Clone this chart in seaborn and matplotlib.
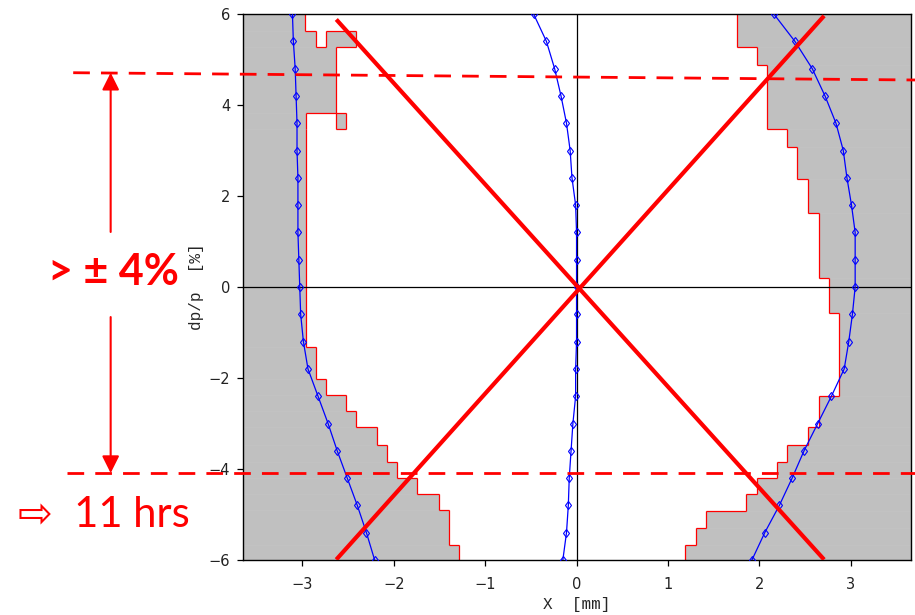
import numpy as np
import pandas as pd
import matplotlib
matplotlib.use("Agg")
import matplotlib.pyplot as plt
from matplotlib.collections import LineCollection
import seaborn as sns

# ---- tracked particle trajectories: horizontal position vs momentum offset ----
dpp = [-6.0, -5.4, -4.8, -4.2, -3.6, -3.0, -2.4, -1.8, -1.2, -0.6, 0.0,
       0.6, 1.2, 1.8, 2.4, 3.0, 3.6, 4.2, 4.8, 5.4, 6.0]
x_inner_left = [-2.21, -2.30, -2.40, -2.51, -2.62, -2.72, -2.83, -2.94, -2.99, -3.02, -3.03,
                -3.04, -3.05, -3.05, -3.05, -3.06, -3.06, -3.07, -3.08, -3.10, -3.11]
x_center = [-0.15, -0.11, -0.09, -0.08, -0.06, -0.04, -0.01, -0.01, 0.00, 0.00, 0.00,
            0.00, 0.00, -0.01, -0.05, -0.07, -0.11, -0.17, -0.24, -0.33, -0.47]
x_outer_right = [1.92, 2.06, 2.22, 2.36, 2.49, 2.64, 2.79, 2.93, 2.98, 3.02, 3.05,
                 3.05, 3.05, 3.01, 2.96, 2.92, 2.84, 2.72, 2.58, 2.39, 2.16]

# ---- lost-particle region on the negative side (momentum bins and aperture limit) ----
left_edges = [-6.0, -5.66, -4.90, -4.55, -4.20, -3.84, -3.47, -3.08, -2.72, -2.37,
              -2.02, -1.31, 3.47, 3.82, 5.28, 5.63, 6.0]
left_limit = [-1.29, -1.40, -1.51, -1.75, -1.96, -2.07, -2.18, -2.41, -2.52, -2.74,
              -2.85, -2.96, -2.96, -2.63, -2.85, -2.97]
# isolated lost cells: (bin index, x from, x to)
left_islands = [(12, -2.63, -2.52), (14, -2.74, -2.41)]

# ---- lost-particle region on the positive side ----
right_edges = [-6.0, -5.66, -5.30, -4.92, -4.54, -4.20, -3.84, -3.47, -3.07, -2.39,
               -0.56, 0.19, 1.62, 2.37, 3.08, 3.47, 4.89, 5.28, 6.0]
right_limit = [1.19, 1.31, 1.42, 1.86, 1.97, 2.19, 2.30, 2.53, 2.65, 2.87,
               2.76, 2.65, 2.53, 2.41, 2.30, 2.08, 1.97, 1.76]

# ---- dispersive acceptance lines ----
line_a_x = [-2.63, 2.71]
line_a_y = [5.88, -5.99]
line_b_x = [-2.63, 2.71]
line_b_y = [-5.99, 5.96]

# ---- momentum acceptance markers ----
upper_cut_x = [-5.51, 3.71]
upper_cut_y = [4.71, 4.55]
lower_cut_x = [-5.58, 3.71]
lower_cut_y = [-4.09, -4.09]

acceptance_label = "> ± 4%"
lifetime_label = "⇨  11 hrs"

GRAY = "#c0c0c0"
RED = "#ff0000"
BLUE = "#0000ff"

sns.set_theme(style="white")
plt.rcParams["font.family"] = ["DejaVu Sans"]

fig = plt.figure(figsize=(9.15, 6.15), dpi=100)
ax = fig.add_axes([0.2659, 0.0894, 0.7294, 0.8878])
ax.set_xlim(-3.648, 3.658)
ax.set_ylim(-6, 6)


def rows_from(edges, bounds, side, islands=()):
    rows = []
    for i, b in enumerate(bounds):
        ivs = [(-5.0, b)] if side == "left" else [(b, 5.0)]
        for k, a0, a1 in islands:
            if k == i:
                ivs.append((a0, a1))
        rows.append((edges[i], edges[i + 1], ivs))
    return rows


def outline(rows):
    segs = []
    for y0, y1, ivs in rows:
        for a0, a1 in ivs:
            segs.append([(a0, y0), (a0, y1)])
            segs.append([(a1, y0), (a1, y1)])
    for (_, y, lower), (_, _, upper) in zip(rows[:-1], rows[1:]):
        pts = sorted({p for iv in lower + upper for p in iv})
        for p, q in zip(pts[:-1], pts[1:]):
            m = 0.5 * (p + q)
            in_lo = any(a < m < b for a, b in lower)
            in_up = any(a < m < b for a, b in upper)
            if in_lo != in_up:
                segs.append([(p, y), (q, y)])
    return segs


for rows in (rows_from(left_edges, left_limit, "left", left_islands),
             rows_from(right_edges, right_limit, "right")):
    for y0, y1, ivs in rows:
        for a0, a1 in ivs:
            ax.fill_betweenx([y0, y1], a0, a1, color=GRAY, lw=0.4, ec=GRAY, zorder=1)
    ax.add_collection(LineCollection(outline(rows), colors=RED, linewidths=0.9, zorder=2))

# axes cross-hair
ax.axhline(0, color="black", lw=0.9, zorder=3)
ax.axvline(0, color="black", lw=0.9, zorder=3)

# trajectories
tracks = pd.DataFrame({
    "dpp": dpp * 3,
    "x": x_inner_left + x_center + x_outer_right,
    "track": ["left"] * len(dpp) + ["center"] * len(dpp) + ["right"] * len(dpp),
})
sns.lineplot(data=tracks, x="x", y="dpp", units="track", estimator=None, sort=False,
             color=BLUE, lw=0.9, marker="d", ms=4.5, mfc="none", mec=BLUE, mew=0.8,
             ax=ax, zorder=4, legend=False)

# acceptance cross
ax.plot(line_a_x, line_a_y, color=RED, lw=3, zorder=5, solid_capstyle="butt")
ax.plot(line_b_x, line_b_y, color=RED, lw=3, zorder=5, solid_capstyle="butt")

# momentum acceptance cuts extending into the margin
for xs, ys in ((upper_cut_x, upper_cut_y), (lower_cut_x, lower_cut_y)):
    ax.plot(xs, ys, color=RED, lw=2, ls=(0, (6, 4)), clip_on=False, zorder=6)

arrow_x = -5.10
arrow_kw = dict(arrowstyle="-|>", color=RED, lw=1.5, mutation_scale=26, shrinkA=0, shrinkB=0)
ax.annotate("", xy=(arrow_x, upper_cut_y[0]), xytext=(arrow_x, 1.21),
            arrowprops=arrow_kw, annotation_clip=False)
ax.annotate("", xy=(arrow_x, lower_cut_y[0]), xytext=(arrow_x, -0.66),
            arrowprops=arrow_kw, annotation_clip=False)

ax.text(-5.07, 0.33, acceptance_label, color=RED, fontsize=31, fontweight="bold",
        family=["Lato", "DejaVu Sans"], ha="center", va="center", clip_on=False)
ax.text(-6.11, -5.01, lifetime_label, color=RED, fontsize=30,
        family=["Lato", "DejaVu Sans"], ha="left", va="center", clip_on=False)

# ticks and labels
ax.set_xticks([-3, -2, -1, 0, 1, 2, 3])
ax.set_yticks([-6, -4, -2, 0, 2, 4, 6])
ax.tick_params(axis="both", which="major", direction="out", length=4, width=0.9,
               color="black", labelsize=10.5, labelcolor="#222222")
ax.tick_params(axis="x", bottom=True, pad=8)
ax.tick_params(axis="y", left=True, pad=5.5)
ax.set_xlabel("X  [mm]", family="Liberation Mono", fontsize=11.5, labelpad=4)
ax.set_ylabel("dp/p  [%]", family="Liberation Mono", fontsize=11.5, labelpad=3)
for s in ax.spines.values():
    s.set_color("black")
    s.set_linewidth(1.0)
    s.set_visible(True)

fig.savefig("out.png", dpi=100)
